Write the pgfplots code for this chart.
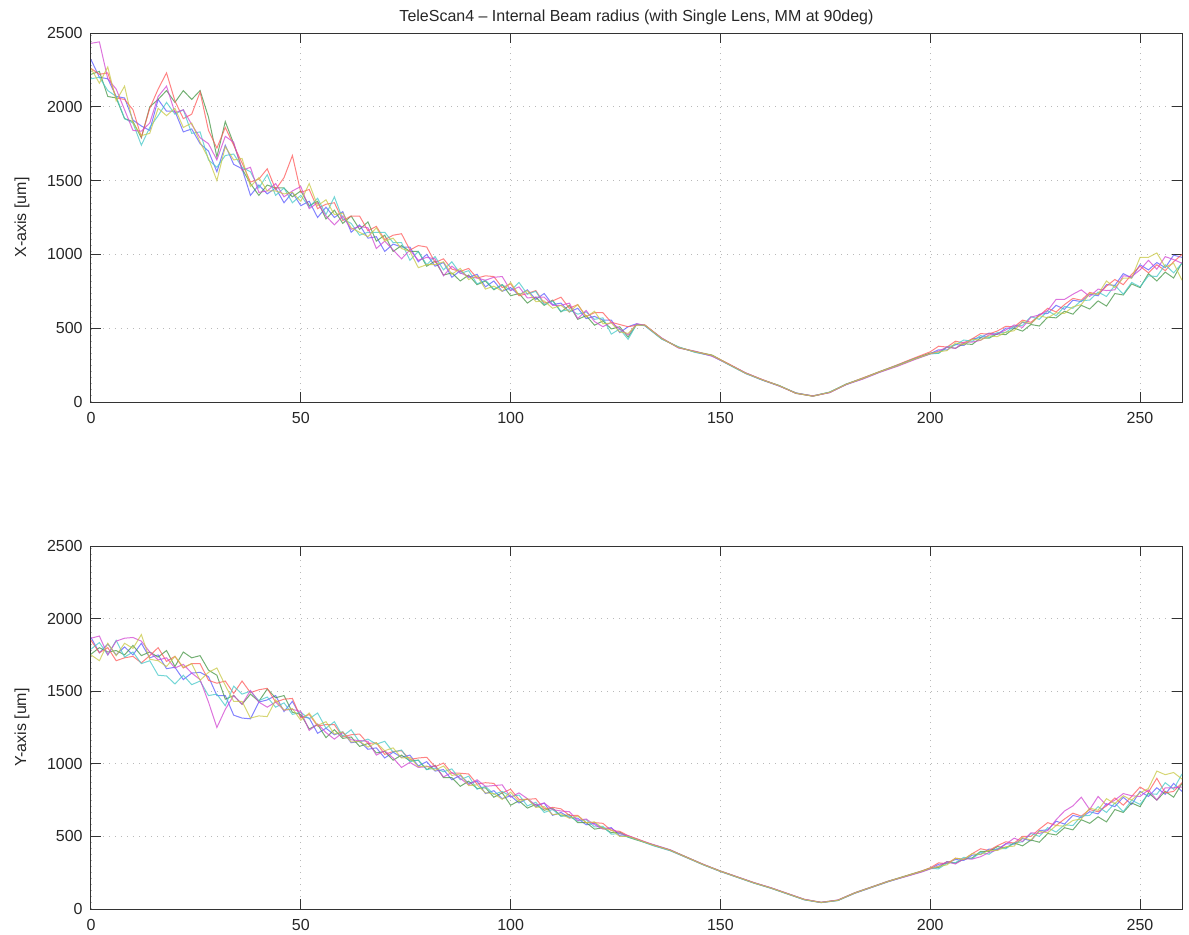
\documentclass[border=0pt]{standalone}
\usepackage{pgfplots}
\usepackage{pgfplotstable}
\pgfplotsset{compat=1.18}
\usepackage{fontspec}
\setmainfont{Liberation Sans}
\definecolor{mb}{RGB}{90,90,255}
\definecolor{mg}{RGB}{70,150,70}
\definecolor{mr}{RGB}{255,90,90}
\definecolor{mc}{RGB}{70,200,200}
\definecolor{mm}{RGB}{210,70,210}
\definecolor{my}{RGB}{200,200,70}

\pgfplotstableread{
x a b c d e f
0 2320 2220 2260 2190 2430 2260
2 2200 2240 2220 2200 2440 2160
4 2190 2070 2230 2110 2190 2270
6 2070 2060 2060 2070 2120 2040
8 2060 1920 2050 1920 1980 2140
10 1910 1900 1980 1890 1840 1890
12 1870 1790 1795 1740 1835 1805
14 1840 2000 1990 1860 1890 1820
16 2050 2050 2120 1940 2070 1990
18 1970 2110 2230 2030 2140 1940
20 1970 2030 2040 1950 1960 1990
22 1830 2110 1920 1980 1980 1860
24 1850 2050 1950 1820 1880 1890
26 1750 2110 2100 1830 1790 1760
28 1700 1930 1840 1640 1750 1650
30 1560 1660 1720 1590 1640 1500
32 1740 1900 1860 1670 1800 1730
34 1610 1750 1740 1680 1760 1640
36 1580 1580 1620 1590 1570 1650
38 1400 1480 1490 1560 1590 1460
40 1470 1400 1510 1450 1420 1520
42 1410 1470 1580 1540 1430 1430
44 1450 1450 1440 1400 1480 1430
46 1350 1450 1520 1450 1390 1410
48 1420 1390 1670 1350 1430 1420
50 1330 1430 1420 1400 1460 1360
52 1360 1330 1440 1320 1310 1480
54 1250 1360 1310 1380 1350 1330
56 1320 1240 1340 1270 1260 1370
58 1250 1300 1350 1390 1200 1270
60 1290 1210 1230 1240 1260 1280
62 1150 1260 1260 1210 1170 1180
64 1200 1170 1260 1130 1190 1150
66 1110 1220 1160 1150 1180 1120
68 1120 1090 1190 1150 1040 1180
70 1020 1130 1100 1150 1090 1090
72 1070 1020 1130 1080 1030 1110
74 1050 1060 1140 1080 970 1040
76 1050 1020 1030 960 1030 1020
78 950 1020 1060 1020 960 910
80 1000 920 1050 930 980 930
82 920 955 945 985 970 930
84 945 860 970 895 855 950
86 845 875 900 950 920 865
88 890 820 885 870 875 905
90 845 860 905 890 850 830
92 865 795 840 800 840 855
94 780 820 855 825 825 765
96 820 760 850 765 845 785
98 750 795 775 795 850 750
100 775 720 800 755 755 810
102 725 735 720 810 780 725
104 760 670 735 730 705 755
106 695 710 755 750 710 680
108 735 655 670 660 710 685
110 660 690 685 685 655 635
112 670 610 710 615 655 655
114 610 655 635 625 670 610
116 635 560 660 595 565 660
118 565 585 580 610 620 575
120 580 520 605 560 545 615
122 555 550 605 570 510 530
124 555 495 540 460 540 535
126 470 510 525 495 495 475
128 510 440 510 425 455 465
130 530 525 520 525 530 520
132 518 520 522 516 520 521
136 428 432 430 426 434 430
140 372 368 370 374 366 370
144 338 342 340 336 344 340
148 312 318 316 314 310 316
152 254 256 258 252 256 255
156 193 197 196 194 198 195
160 148 150 152 149 151 150
164 108 112 110 111 109 110
168 62 58 60 61 59 60
172 40 41 39 40 42 40
176 64 66 65 67 63 65
180 118 122 120 121 119 120
184 158 162 164 160 156 160
188 203 207 206 204 202 205
192 243 248 250 246 240 244
196 288 292 296 290 284 288
200 328 332 340 325 326 328
202 354 331 378 330 344 340
204 353 373 372 372 373 348
206 390 364 412 387 363 400
208 383 395 400 420 405 389
210 427 390 428 411 406 425
212 437 434 463 450 418 419
214 467 432 461 437 455 448
216 458 462 481 471 461 443
218 500 456 513 471 488 473
220 501 500 509 514 522 483
222 540 480 555 520 505 545
224 530 525 540 578 575 530
226 595 515 585 560 590 585
228 600 575 635 618 620 570
230 655 570 610 585 695 605
232 628 615 660 647 695 600
234 690 595 702 635 730 645
236 680 655 690 688 760 660
238 730 630 742 690 715 735
240 720 685 730 745 765 730
242 795 650 785 715 755 820
244 790 735 830 790 760 775
246 870 725 795 730 855 840
248 840 800 865 810 850 840
250 930 775 920 780 895 980
252 895 870 875 855 960 980
254 945 820 930 850 900 1010
256 910 880 890 930 985 915
258 995 840 950 875 965 940
260 980 945 1000 940 940 825
}\toptable

\pgfplotstableread{
x a b c d e f
0 1870 1755 1850 1790 1865 1750
2 1765 1800 1765 1835 1880 1710
4 1825 1770 1800 1750 1750 1830
6 1750 1780 1710 1850 1845 1745
8 1805 1750 1730 1735 1865 1830
10 1750 1815 1740 1770 1870 1795
12 1830 1745 1695 1690 1845 1890
14 1730 1770 1745 1710 1770 1720
16 1750 1735 1800 1610 1715 1710
18 1655 1780 1705 1605 1730 1670
20 1665 1670 1740 1550 1660 1740
22 1580 1770 1660 1610 1685 1665
24 1625 1730 1690 1545 1625 1690
26 1630 1745 1690 1570 1580 1575
28 1600 1645 1575 1470 1425 1630
30 1470 1610 1555 1480 1250 1660
32 1470 1445 1570 1400 1375 1540
34 1335 1470 1485 1535 1470 1430
36 1315 1410 1570 1480 1410 1430
38 1310 1480 1490 1500 1505 1315
40 1425 1430 1510 1435 1425 1330
42 1440 1515 1520 1460 1390 1325
44 1470 1455 1425 1390 1425 1440
46 1360 1470 1445 1420 1370 1370
48 1430 1355 1450 1340 1375 1380
50 1325 1340 1315 1355 1360 1300
52 1315 1240 1340 1310 1230 1350
54 1210 1270 1260 1350 1275 1265
56 1245 1180 1270 1245 1215 1290
58 1200 1235 1270 1290 1170 1205
60 1220 1175 1185 1190 1215 1220
62 1145 1185 1200 1235 1165 1150
64 1155 1120 1205 1150 1160 1155
66 1100 1140 1140 1170 1155 1115
68 1110 1075 1145 1135 1060 1145
70 1040 1085 1065 1155 1090 1090
72 1080 1025 1085 1080 1040 1110
74 1045 1060 1090 1095 975 1040
76 1060 1020 1030 1015 1010 1045
78 985 1025 1040 1025 975 980
80 1015 960 1045 960 980 985
82 950 990 980 970 985 955
84 960 905 1005 945 910 985
86 890 905 935 965 940 920
88 920 845 935 890 900 930
90 865 880 930 915 855 850
92 880 830 860 825 890 855
94 795 835 870 845 845 800
96 815 770 865 790 850 795
98 760 800 800 810 855 755
100 780 715 825 775 770 805
102 730 745 755 785 800 740
104 760 695 755 710 760 760
106 705 720 760 735 715 700
108 730 680 690 665 730 705
110 645 695 700 685 685 650
112 665 640 690 640 675 655
114 630 650 645 640 670 625
116 625 595 645 605 610 640
118 580 595 595 615 620 595
120 590 550 595 565 580 600
122 555 560 590 570 550 555
124 560 525 540 515 555 545
126 505 530 535 520 520 500
128 498 495 505 495 505 500
130 480 476 485 478 482 480
134 438 442 440 436 444 440
138 403 407 405 402 408 405
142 354 357 355 353 356 355
146 304 306 305 303 307 305
150 259 262 260 258 261 260
154 219 221 220 218 222 220
158 179 181 180 178 182 180
162 144 146 145 143 147 145
166 104 106 105 103 107 105
170 64 66 65 63 67 65
174 44 46 45 44 46 45
178 59 61 60 58 62 60
182 108 112 110 109 111 110
186 148 152 150 149 151 150
190 188 192 190 189 191 190
194 223 227 226 224 222 225
198 258 262 262 258 255 260
200 278 282 284 278 276 280
202 308 285 318 277 296 293
204 316 327 312 316 326 304
206 341 316 350 319 310 350
208 335 343 343 356 345 342
210 371 352 381 346 344 381
212 377 397 415 390 360 375
214 413 396 403 377 389 405
216 408 430 436 418 407 403
218 450 421 463 415 446 429
220 446 455 454 454 488 433
222 485 435 500 463 465 492
224 470 475 500 520 525 475
226 540 460 550 500 520 535
228 545 520 595 560 540 525
230 605 510 575 530 615 575
232 585 560 620 580 675 570
234 645 545 660 575 710 610
236 630 615 640 640 770 620
238 670 590 685 645 685 695
240 655 635 670 705 775 680
242 725 600 710 665 715 760
244 705 685 765 730 750 725
246 770 665 715 670 795 780
248 720 730 775 750 780 750
250 810 705 840 720 775 800
252 775 800 805 795 820 830
254 835 750 900 790 750 950
256 790 810 800 870 835 925
258 865 770 810 825 835 940
260 810 865 870 930 840 895
}\bottable

\pgfplotsset{
  mystyle/.style={
    scale only axis,
    width=545.5pt,
    xmin=0, xmax=260, ymin=0, ymax=2500,
    xtick={0,50,...,250}, ytick={0,500,...,2500},
    tick align=inside,
    major tick length=5pt,
    grid=major,
    major grid style={gray!55, line width=0.4pt, dash pattern=on 0.6pt off 2.4pt},
    axis line style={black!80, line width=0.5pt},
    tick style={black!80, line width=0.5pt},
    /pgf/number format/1000 sep={},
    /pgf/number format/assume math mode=true,
    tick label style={font=\fontsize{8}{9}\selectfont, text=black!85},
    yticklabel style={inner sep=0pt, xshift=-4pt},
    xticklabel style={inner sep=0pt, yshift=-5pt},
    every axis y label/.style={at={(rel axis cs:0,0.5)}, xshift=-34.5pt, rotate=90, anchor=center, font=\fontsize{8}{9}\selectfont, text=black!85},
    every axis title/.style={at={(rel axis cs:0.5,1)}, anchor=center, yshift=8pt, font=\fontsize{8}{9}\selectfont, text=black!85},
    every axis plot/.append style={line width=0.5pt, opacity=0.75},
  }
}

\begin{document}
\begin{tikzpicture}
\useasboundingbox (0,0) rectangle (594.5pt,467pt);
\begin{axis}[mystyle, at={(45.5pt,266pt)}, anchor=south west, height=184.5pt,
  title={TeleScan4 – Internal Beam radius (with Single Lens, MM at 90deg)},
  ylabel={X-axis [um]}]
\addplot[mb] table[x=x,y=a]{\toptable};
\addplot[mg] table[x=x,y=b]{\toptable};
\addplot[mr] table[x=x,y=c]{\toptable};
\addplot[mc] table[x=x,y=d]{\toptable};
\addplot[mm] table[x=x,y=e]{\toptable};
\addplot[my] table[x=x,y=f]{\toptable};
\end{axis}
\begin{axis}[mystyle, at={(45.5pt,12.5pt)}, anchor=south west, height=181.5pt,
  ylabel={Y-axis [um]}]
\addplot[mb] table[x=x,y=a]{\bottable};
\addplot[mg] table[x=x,y=b]{\bottable};
\addplot[mr] table[x=x,y=c]{\bottable};
\addplot[mc] table[x=x,y=d]{\bottable};
\addplot[mm] table[x=x,y=e]{\bottable};
\addplot[my] table[x=x,y=f]{\bottable};
\end{axis}
\end{tikzpicture}
\end{document}
